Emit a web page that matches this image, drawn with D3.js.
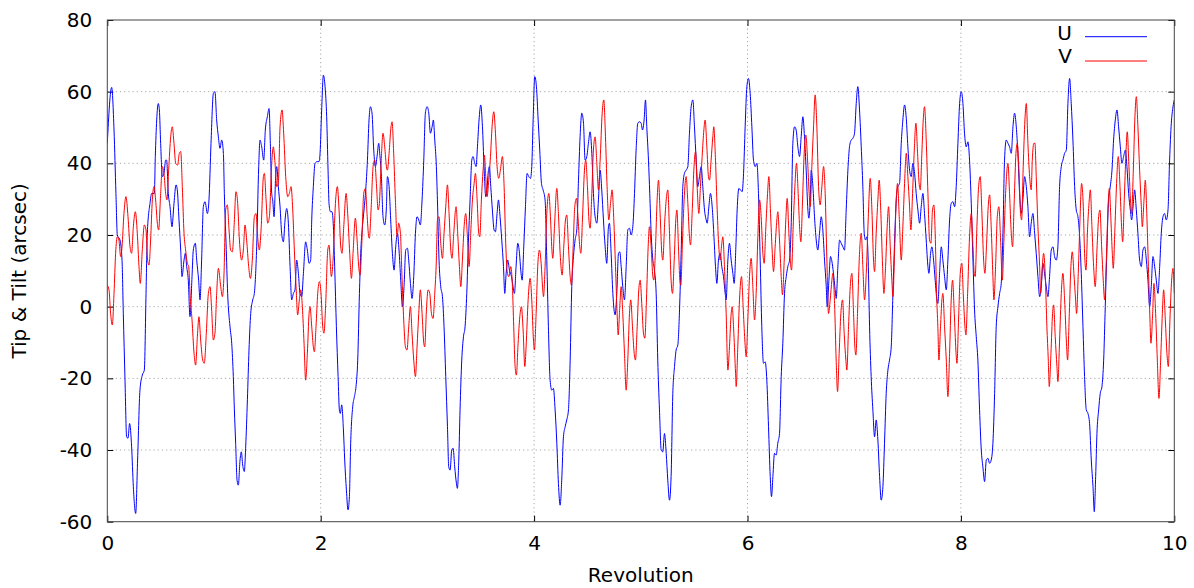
<!DOCTYPE html>
<html>
<head>
<meta charset="utf-8">
<script src="https://cdn.jsdelivr.net/npm/d3@7"></script>
<style>
  html, body { margin: 0; padding: 0; background: #fff; }
  svg { display: block; }
  text { font-family: "DejaVu Sans", sans-serif; fill: #000; }
</style>
</head>
<body>
<script>
// ---- data (revolution, arcsec) ----
const xTicks = [0, 2, 4, 6, 8, 10];
const yTicks = [-60, -40, -20, 0, 20, 40, 60, 80];
const seriesNames = ["U", "V"];
const seriesColors = ["#0000ff", "#ff0000"];

const uPoints = [
[0.000,45.6],[0.041,61.2],[0.063,49.3],[0.081,31.6],[0.094,20],[0.119,18.6],[0.138,13],[0.150,-1.9],[0.166,-20.5],[0.181,-36.3],[0.194,-36.7],[0.209,-32.6],[0.228,-39.1],[0.244,-50.2],[0.266,-57.7],[0.284,-42.8],[0.306,-23.3],[0.328,-19.1],[0.347,-17.7],[0.363,3.7],[0.375,20.5],[0.400,28.8],[0.416,31.6],[0.441,31.6],[0.450,41.9],[0.463,52.1],[0.478,56.7],[0.488,54.9],[0.500,45.6],[0.516,36.3],[0.531,37.2],[0.547,40.9],[0.556,40.9],[0.572,31.6],[0.588,27.9],[0.606,22.3],[0.625,28.8],[0.644,34],[0.656,32.6],[0.672,24.2],[0.688,15.8],[0.700,8.4],[0.719,13],[0.731,14.9],[0.744,11.2],[0.759,7.4],[0.775,-2.8],[0.794,8.4],[0.806,15.8],[0.825,17.7],[0.838,13],[0.856,7.4],[0.869,1.9],[0.884,13],[0.900,27.9],[0.916,29.3],[0.938,26],[0.953,29.8],[0.972,45.6],[0.994,59.5],[1.009,60],
[1.025,52.1],[1.041,47.4],[1.056,44.2],[1.072,46.5],[1.088,42.8],[1.097,31.6],[1.113,17.7],[1.128,3.7],[1.150,-5.6],[1.166,-10.2],[1.181,-19.5],[1.191,-28.8],[1.203,-38.1],[1.216,-48.4],[1.228,-49.8],[1.244,-42.8],[1.256,-40.5],[1.269,-44.2],[1.284,-46],[1.297,-39.1],[1.313,-26],[1.328,-12.1],[1.344,-1.9],[1.363,1.9],[1.378,3.7],[1.400,16.7],[1.419,39.1],[1.431,46.5],[1.447,44.6],[1.466,40.9],[1.481,49.3],[1.500,53],[1.516,55.3],[1.528,45.6],[1.541,31.6],[1.550,29.8],[1.563,25.1],[1.578,36.3],[1.588,39.1],[1.603,33.5],[1.619,27.9],[1.634,20.5],[1.650,18.1],[1.666,24.2],[1.681,27.4],[1.697,23.3],[1.713,11.2],[1.728,1.9],[1.744,3.7],[1.759,4.7],[1.775,13],[1.791,9.3],[1.806,3.7],[1.822,2.8],[1.838,9.3],[1.859,18.1],[1.875,15.8],[1.891,12.1],[1.906,13],[1.916,24.2],[1.931,33.5],[1.947,40],[1.969,40.5],[1.984,40.5],[1.994,42.8],[2.009,54.9],[2.025,64.6],[2.041,61.4],[2.056,53],
[2.069,38.1],[2.078,28.8],[2.091,26.5],[2.106,26.5],[2.119,22.3],[2.131,11.2],[2.147,-5.6],[2.163,-19.5],[2.175,-28.8],[2.184,-29.8],[2.197,-27.4],[2.213,-34.4],[2.225,-42.8],[2.241,-51.2],[2.256,-56.7],[2.269,-53],[2.281,-38.1],[2.300,-27.9],[2.316,-25.1],[2.331,-22.3],[2.347,-14.9],[2.363,3.7],[2.375,14.9],[2.391,22.3],[2.406,27],[2.422,32.6],[2.438,40.9],[2.453,52.1],[2.466,55.8],[2.481,54],[2.497,43.7],[2.513,39.1],[2.528,41.9],[2.544,45.6],[2.553,42.8],[2.569,36.3],[2.584,25.1],[2.600,22.8],[2.616,27.9],[2.625,36.3],[2.641,33.5],[2.656,24.2],[2.672,14.9],[2.688,10.2],[2.703,16.7],[2.719,20.5],[2.734,15.8],[2.750,7.4],[2.766,0],[2.781,5.6],[2.797,15.8],[2.813,16.3],[2.825,13],[2.841,6.5],[2.856,2.3],[2.872,8.4],[2.888,20.5],[2.903,25.1],[2.919,24.2],[2.934,22.8],[2.950,29.8],[2.966,40.9],[2.981,54],[2.997,55.8],[3.013,54],[3.028,48.4],[3.044,50.2],[3.056,52.1],[3.069,46.5],[3.084,39.1],
[3.094,29.8],[3.109,13],[3.125,5.6],[3.141,2.8],[3.156,-5.6],[3.172,-19.5],[3.188,-33.5],[3.200,-44.7],[3.213,-45.6],[3.228,-40],[3.241,-39.5],[3.256,-44.7],[3.272,-49.3],[3.281,-50.7],[3.294,-42.8],[3.306,-28.8],[3.322,-14.9],[3.338,-8.4],[3.353,-5.6],[3.369,3.7],[3.384,17.7],[3.400,29.8],[3.416,40.9],[3.428,41.9],[3.444,40],[3.456,39.1],[3.469,44.6],[3.484,52.1],[3.500,56.3],[3.516,50.2],[3.531,39.1],[3.547,30.7],[3.556,31.6],[3.569,37.2],[3.581,39.1],[3.594,33.5],[3.609,27],[3.625,21.4],[3.638,20.9],[3.653,26],[3.666,29.8],[3.681,25.1],[3.697,18.6],[3.713,11.2],[3.725,3.7],[3.738,9.3],[3.753,13],[3.769,10.2],[3.788,8.4],[3.803,5.6],[3.816,3.7],[3.831,11.2],[3.847,17.7],[3.863,14.9],[3.875,10.2],[3.888,7.4],[3.903,16.7],[3.919,27.9],[3.934,37.2],[3.950,36.3],[3.966,35.8],[3.978,39.1],[3.991,52.1],[4.006,64.2],[4.022,61.4],[4.038,52.1],[4.053,43.7],[4.069,34.4],[4.084,32.6],
[4.103,29.8],[4.119,13],[4.134,-5.6],[4.150,-20.5],[4.166,-23.3],[4.181,-22.8],[4.197,-28.8],[4.213,-38.1],[4.228,-49.3],[4.244,-55.4],[4.259,-48.4],[4.275,-36.3],[4.291,-33.5],[4.306,-31.6],[4.322,-28.8],[4.338,-14.9],[4.353,5.6],[4.369,14],[4.384,18.6],[4.400,21.4],[4.416,35.3],[4.431,47.4],[4.447,54],[4.463,51.2],[4.478,40.9],[4.494,41.9],[4.509,45.6],[4.525,48.8],[4.541,42.8],[4.556,31.6],[4.572,25.1],[4.588,23.3],[4.603,29.8],[4.619,38.1],[4.634,32.6],[4.650,24.2],[4.666,16.7],[4.681,12.1],[4.697,22.3],[4.706,23.3],[4.722,14.9],[4.738,3.7],[4.759,-2.3],[4.775,3.7],[4.791,14.9],[4.803,15.3],[4.816,11.2],[4.831,5.6],[4.847,1.9],[4.863,11.2],[4.878,21.4],[4.894,21.9],[4.909,20],[4.925,22.3],[4.941,31.6],[4.956,43.7],[4.972,51.2],[4.988,51.6],[5.003,51.2],[5.016,49.3],[5.031,52.1],[5.044,57.7],[5.056,50.2],[5.072,40.9],
[5.084,31.6],[5.097,20.5],[5.113,13],[5.128,10.2],[5.144,3.7],[5.159,-14.9],[5.175,-28.8],[5.191,-40],[5.206,-40.5],[5.222,-35.4],[5.238,-40.9],[5.253,-48.4],[5.269,-54],[5.284,-47.4],[5.300,-24.2],[5.316,-16.7],[5.331,-12.1],[5.347,-10.7],[5.363,-0.9],[5.378,14.9],[5.394,33.5],[5.409,37.2],[5.425,38.1],[5.441,39.1],[5.456,48.4],[5.472,55.8],[5.488,57.7],[5.503,50.2],[5.519,40.9],[5.534,33.5],[5.550,36.3],[5.566,39.1],[5.581,33.5],[5.597,27],[5.613,24.2],[5.622,23.3],[5.638,27.9],[5.653,31.6],[5.669,27.9],[5.684,20.5],[5.700,11.2],[5.713,6.5],[5.728,13],[5.744,14.9],[5.759,11.2],[5.775,8.4],[5.791,3.7],[5.800,1.9],[5.816,13],[5.831,17.7],[5.847,13],[5.863,9.3],[5.875,6.5],[5.891,16.7],[5.903,27],[5.919,33],[5.934,32.6],[5.950,32.1],[5.963,37.2],[5.978,50.2],[5.994,61.4],[6.009,63.7],[6.025,59.5],[6.041,50.2],[6.056,40.9],[6.072,39.1],[6.088,40],[6.103,31.6],[6.119,13],[6.134,-5.6],[6.150,-15.8],[6.166,-15.4],[6.181,-20.5],[6.197,-33.5],[6.213,-47.4],
[6.225,-53],[6.238,-47.4],[6.253,-40.9],[6.269,-41.4],[6.284,-38.1],[6.300,-35.4],[6.316,-19.5],[6.331,-10.2],[6.347,3.7],[6.363,8.4],[6.378,11.2],[6.394,13],[6.409,22.3],[6.425,45.6],[6.441,50.2],[6.456,49.3],[6.472,44.6],[6.488,41.9],[6.503,47.4],[6.519,53],[6.534,47.4],[6.550,38.1],[6.566,27],[6.575,24.7],[6.588,29.8],[6.597,38.1],[6.613,33.5],[6.628,25.1],[6.644,18.6],[6.659,15.8],[6.675,20.5],[6.691,25.1],[6.706,21.4],[6.722,13],[6.738,5.6],[6.747,0],[6.763,7.4],[6.778,14],[6.794,12.1],[6.809,8.4],[6.825,3.7],[6.831,2.3],[6.847,11.2],[6.863,18.6],[6.878,17.7],[6.894,16.7],[6.909,15.8],[6.925,27],[6.941,38.1],[6.956,44.6],[6.972,46.5],[6.988,47],[7.003,48.4],[7.019,56.7],[7.034,61.4],[7.050,54.9],[7.066,44.6],[7.081,33.5],[7.094,20.5],[7.106,18.6],[7.119,19.5],[7.131,13],[7.144,-5.6],[7.159,-19.5],[7.175,-28.8],[7.191,-36.3],[7.206,-31.6],[7.222,-37.2],[7.238,-47.4],[7.253,-54],[7.269,-50.2],[7.284,-38.1],[7.300,-24.2],[7.316,-17.7],[7.331,-14.9],[7.347,-11.2],[7.363,3.7],[7.378,17.7],[7.394,29.8],[7.409,33.5],[7.425,34.4],
[7.441,45.6],[7.456,52.1],[7.472,56.3],[7.488,52.6],[7.503,44.6],[7.519,38.1],[7.534,36.3],[7.550,40],[7.566,37.2],[7.581,31.6],[7.597,27],[7.613,23.3],[7.628,27.9],[7.644,31.6],[7.659,26],[7.675,18.6],[7.691,11.2],[7.700,9.3],[7.716,14.9],[7.728,16.7],[7.744,13],[7.759,7.4],[7.775,1.9],[7.784,0.9],[7.800,9.3],[7.816,16.7],[7.831,13],[7.847,8.4],[7.863,4.7],[7.878,13],[7.894,24.2],[7.909,28.8],[7.925,29.3],[7.941,27.9],[7.956,33.5],[7.972,45.6],[7.988,56.7],[8.003,60],[8.019,56.7],[8.034,48.4],[8.050,44.6],[8.066,46],[8.081,40.9],[8.097,28.8],[8.113,13],[8.128,-0.9],[8.144,-8.4],[8.159,-14.9],[8.175,-28.8],[8.191,-40],[8.206,-44.7],[8.222,-48.8],[8.238,-42.8],[8.253,-42.3],[8.269,-43.7],[8.284,-42.8],[8.300,-38.1],[8.316,-24.2],[8.331,-5.6],[8.347,0],[8.363,3.7],[8.378,6.5],[8.394,20.5],[8.409,40.9],[8.425,46.5],[8.441,45.6],[8.456,44.6],[8.472,42.8],[8.488,50.2],[8.503,54],[8.519,50.2],[8.534,42.8],[8.550,31.6],[8.566,26],[8.581,29.8],[8.597,36.3],[8.613,33.5],[8.628,27.9],[8.644,19.5],
[8.659,23.3],[8.675,26],[8.691,20.5],[8.706,14.9],[8.722,8.4],[8.738,2.8],[8.753,5.6],[8.769,12.1],[8.784,9.3],[8.800,5.6],[8.816,2.8],[8.831,8.4],[8.847,15.8],[8.863,16.7],[8.878,14],[8.894,13],[8.909,16.7],[8.925,33.5],[8.941,39.1],[8.956,40.9],[8.972,42.8],[8.988,43.7],[9.003,56.7],[9.019,63.7],[9.034,56.7],[9.050,46.5],[9.066,33.5],[9.081,27],[9.097,25.1],[9.113,19.5],[9.128,9.3],[9.144,-5.6],[9.159,-19.5],[9.175,-28.8],[9.191,-29.8],[9.206,-32.6],[9.222,-42.8],[9.238,-50.2],[9.250,-57.2],[9.263,-47.4],[9.275,-35.4],[9.291,-28.8],[9.306,-24.2],[9.322,-22.3],[9.338,-14.9],[9.353,0],[9.369,16.7],[9.384,29.8],[9.400,33.5],[9.416,38.1],[9.431,46.5],[9.447,52.1],[9.463,54.9],[9.478,50.2],[9.494,44.6],[9.509,40],[9.525,41.9],[9.541,43.7],[9.556,39.1],[9.572,31.6],[9.588,27],[9.600,24.2],[9.616,28.8],[9.628,32.6],[9.644,27],[9.659,20.5],[9.675,13],[9.691,11.2],[9.706,15.8],[9.722,16.7],[9.738,13],[9.753,7.4],[9.769,0],[9.784,5.6],[9.800,14],[9.816,11.2],[9.831,7.4],[9.847,3.7],[9.863,11.2],[9.878,20.5],[9.894,25.1],[9.909,26],[9.925,24.2],[9.941,27],[9.956,40.9],[9.972,51.2],[9.988,55.8],[10.0,57.7]
];

const vPoints = [
[0.000,6],[0.016,4.7],[0.031,-1.9],[0.047,-5.1],[0.063,3.7],[0.078,14.9],[0.094,19.5],[0.109,18.6],[0.125,14],[0.138,16.7],[0.156,26],[0.175,30.7],[0.194,25.1],[0.213,16.7],[0.228,14.9],[0.244,22.3],[0.263,26.5],[0.281,20.5],[0.297,11.2],[0.309,6.5],[0.328,15.8],[0.347,22.8],[0.363,21.4],[0.378,13],[0.391,11.6],[0.406,18.6],[0.422,29.8],[0.438,33.5],[0.453,29.8],[0.469,23.3],[0.481,21.4],[0.500,31.6],[0.516,39.1],[0.531,37.2],[0.547,31.6],[0.559,29.8],[0.575,38.1],[0.594,47.4],[0.609,50.2],[0.625,45.6],[0.641,40],[0.659,39.5],[0.675,42.8],[0.688,43.3],[0.703,33.5],[0.719,20.5],[0.734,15.8],[0.750,12.1],[0.763,11.2],[0.775,3.7],[0.794,-3.7],[0.813,-13],[0.828,-16.3],[0.844,-8.4],[0.859,-2.8],[0.875,-9.3],[0.894,-14.9],[0.909,-15.8],[0.928,-7.4],[0.947,3.7],[0.963,5.6],[0.978,-0.9],[0.994,-9.3],[1.009,-7.4],[1.025,3.7],[1.041,10.7],
[1.063,5.6],[1.078,2.8],[1.094,9.3],[1.109,27],[1.125,28.4],[1.141,21.4],[1.156,15.8],[1.172,15.3],[1.188,22.3],[1.206,32.1],[1.222,28.8],[1.238,18.6],[1.259,13],[1.275,15.8],[1.291,22.8],[1.306,18.6],[1.325,11.2],[1.341,7.9],[1.359,13],[1.378,25.1],[1.394,26],[1.409,19.5],[1.425,15.8],[1.441,21.4],[1.463,36.3],[1.472,37.2],[1.488,29.8],[1.503,23.3],[1.519,25.1],[1.541,40],[1.556,44.6],[1.572,40],[1.588,33.5],[1.603,34.4],[1.619,50.2],[1.638,54.9],[1.653,48.4],[1.672,36.3],[1.691,30.7],[1.706,31.6],[1.722,33.5],[1.738,27],[1.753,15.8],[1.769,5.6],[1.784,-2.3],[1.800,1.9],[1.813,4.7],[1.828,0],[1.844,-10.2],[1.859,-20.5],[1.875,-13],[1.891,-1.9],[1.900,0],[1.916,-5.6],[1.931,-11.2],[1.941,-12.6],[1.956,-5.6],[1.972,3.7],[1.988,7],[2.003,3.7],[2.019,-5.6],[2.031,-7.4],[2.047,0.9],[2.066,15.8],[2.078,17.2],
[2.100,8.4],[2.116,13],[2.138,28.8],[2.156,33.5],[2.172,27],[2.188,16.7],[2.200,14.9],[2.216,22.3],[2.238,31.6],[2.253,26],[2.272,14.9],[2.288,7.9],[2.303,14.9],[2.325,24.7],[2.341,18.6],[2.356,11.2],[2.369,8.8],[2.384,16.7],[2.403,31.6],[2.419,33],[2.434,26],[2.450,19.5],[2.456,19.1],[2.472,27],[2.491,39.1],[2.506,40.9],[2.522,34.4],[2.538,27],[2.550,28.8],[2.566,40],[2.584,48.4],[2.600,44.6],[2.616,39.1],[2.625,38.1],[2.641,42.8],[2.656,49.3],[2.669,51.6],[2.684,42.8],[2.700,29.8],[2.716,19.5],[2.731,23.3],[2.747,20.5],[2.763,7.4],[2.778,-3.7],[2.794,-11.2],[2.809,-12.1],[2.825,-5.6],[2.841,0],[2.856,-7.4],[2.872,-14.9],[2.888,-19.5],[2.903,-11.2],[2.919,-1.9],[2.934,4.7],[2.950,-1.9],[2.966,-10.2],[2.975,-11.2],[2.991,-0.9],[3.006,4.7],[3.022,3.7],[3.038,-1.9],[3.053,-3.3],[3.069,3.7],[3.084,13],
[3.094,24.2],[3.109,25.1],[3.125,17.7],[3.141,13.5],[3.156,20.5],[3.172,27.9],[3.188,34],[3.203,26],[3.219,15.8],[3.231,13.5],[3.247,20.5],[3.269,27.9],[3.284,20.5],[3.300,11.2],[3.313,5.6],[3.328,13],[3.344,22.3],[3.359,26],[3.375,19.5],[3.391,11.2],[3.406,20.5],[3.422,29.8],[3.438,34.4],[3.450,37.2],[3.466,29.8],[3.481,20.5],[3.491,19.5],[3.506,29.8],[3.522,38.1],[3.534,42.3],[3.547,36.3],[3.559,30.7],[3.575,35.3],[3.591,41.9],[3.606,50.2],[3.622,54.4],[3.638,48.4],[3.653,39.1],[3.669,35.8],[3.684,38.1],[3.703,41.9],[3.719,33.5],[3.734,17.7],[3.750,9.3],[3.763,8.4],[3.781,11.2],[3.797,5.6],[3.809,-5.6],[3.822,-16.7],[3.834,-19.1],[3.850,-10.2],[3.866,-2.8],[3.881,0],[3.897,-6.5],[3.913,-16.7],[3.925,-11.2],[3.944,1.9],[3.963,7.9],[3.978,1.9],[3.994,-9.3],[4.003,-12.1],[4.019,-1.9],[4.034,11.2],[4.050,15.8],[4.066,12.1],[4.081,4.7],
[4.088,2.8],[4.103,11.2],[4.119,26],[4.138,31.6],[4.153,25.1],[4.169,14.9],[4.175,13.5],[4.191,22.3],[4.213,33],[4.228,26],[4.244,14.9],[4.263,8.8],[4.278,16.7],[4.294,24.2],[4.306,25.6],[4.322,16.7],[4.338,8.4],[4.350,6],[4.366,16.7],[4.381,27.9],[4.397,30.2],[4.413,24.2],[4.428,16.7],[4.438,14.9],[4.453,24.2],[4.472,38.1],[4.484,40.9],[4.500,33.5],[4.516,23.3],[4.525,21.9],[4.541,31.6],[4.556,43.7],[4.572,47.4],[4.588,40],[4.603,32.6],[4.619,40.9],[4.638,54],[4.653,57.7],[4.669,47.4],[4.684,33.5],[4.700,24.2],[4.716,28.8],[4.731,32.6],[4.747,24.2],[4.763,11.2],[4.778,-1.9],[4.788,-7.9],[4.803,0],[4.816,5.6],[4.831,-1.9],[4.847,-13],[4.863,-23.3],[4.878,-14.9],[4.894,-1.9],[4.906,1.9],[4.922,-5.6],[4.938,-13],[4.950,-14.9],[4.966,-5.6],[4.981,4.7],[4.994,7.4],[5.009,0.9],[5.025,-7.4],[5.038,-8.8],[5.053,1.9],[5.069,16.7],[5.081,22.3],
[5.097,16.7],[5.113,8.4],[5.122,7.4],[5.138,16.7],[5.153,29.8],[5.166,35.3],[5.181,26],[5.197,14.9],[5.206,13],[5.225,24.2],[5.241,30.7],[5.253,32.6],[5.269,20.5],[5.284,7.4],[5.297,3.7],[5.313,13],[5.328,24.2],[5.338,27],[5.353,16.7],[5.366,7.4],[5.375,6],[5.391,18.6],[5.406,29.8],[5.425,36.3],[5.441,28.8],[5.456,19.5],[5.466,17.2],[5.481,26],[5.497,38.1],[5.513,43.3],[5.528,33.5],[5.544,26],[5.559,33.5],[5.575,41.9],[5.591,49.3],[5.603,52.1],[5.619,44.6],[5.634,36.3],[5.644,35.3],[5.659,40.9],[5.675,47.4],[5.684,50.2],[5.700,40.9],[5.716,27],[5.731,16.7],[5.744,13],[5.756,16.7],[5.769,19.5],[5.784,11.2],[5.800,-1.9],[5.816,-17.7],[5.831,-11.2],[5.847,-1.9],[5.856,0],[5.872,-7.4],[5.888,-18.6],[5.894,-22.3],[5.909,-11.2],[5.925,1.9],[5.944,8.4],[5.959,0],[5.975,-9.3],[5.988,-14],[6.003,-3.7],[6.019,8.4],[6.034,13.5],[6.050,5.6],[6.066,-3.7],[6.081,3.7],[6.097,19.5],[6.113,29.8],[6.128,25.1],[6.144,14.9],[6.156,12.1],[6.172,22.3],[6.188,31.6],[6.200,36.3],
[6.216,26],[6.231,15.8],[6.244,9.8],[6.259,16.7],[6.275,24.2],[6.284,26.5],[6.300,18.6],[6.316,8.4],[6.328,3.3],[6.344,13],[6.359,24.2],[6.372,30.2],[6.388,20.5],[6.403,12.1],[6.413,10.2],[6.428,22.3],[6.444,33.5],[6.459,40],[6.475,31.6],[6.488,22.3],[6.500,18.1],[6.516,29.8],[6.531,42.8],[6.547,47.9],[6.563,40.9],[6.578,31.6],[6.588,27.9],[6.603,39.1],[6.619,50.2],[6.634,59.1],[6.650,50.2],[6.666,33.5],[6.681,28.4],[6.697,33.5],[6.713,39.1],[6.728,31.6],[6.744,13],[6.759,-1.9],[6.775,1.9],[6.791,7.4],[6.800,9.3],[6.816,0.9],[6.831,-14.9],[6.844,-23.7],[6.859,-13],[6.875,-1.9],[6.891,1.9],[6.906,-7.4],[6.922,-14.9],[6.931,-17.7],[6.947,-5.6],[6.963,5.6],[6.978,9.3],[6.994,-1.9],[7.006,-11.2],[7.016,-13.5],[7.031,-1.9],[7.047,13],[7.066,20.5],[7.081,11.2],[7.097,1.9],[7.113,9.3],[7.131,24.2],[7.150,35.8],[7.166,27],[7.181,13],[7.191,9.8],[7.206,20.5],[7.222,29.8],[7.234,35.3],[7.250,26],[7.266,11.2],[7.278,3.7],[7.294,11.2],[7.309,22.3],[7.322,27.9],[7.338,16.7],[7.353,7.4],[7.363,2.8],[7.378,14.9],[7.394,29.8],[7.406,34.4],[7.422,25.1],
[7.441,13],[7.456,22.3],[7.472,34.4],[7.488,42.8],[7.503,36.3],[7.519,27.9],[7.531,21.4],[7.547,31.6],[7.563,43.7],[7.578,51.2],[7.594,42.8],[7.606,35.3],[7.619,32.6],[7.634,42.8],[7.647,52.1],[7.659,55.8],[7.675,46.5],[7.691,31.6],[7.706,18.6],[7.719,17.7],[7.734,27],[7.747,28.4],[7.759,20.5],[7.772,3.7],[7.784,-5.6],[7.794,-14.9],[7.809,-5.6],[7.822,1.9],[7.831,3.7],[7.847,-5.6],[7.863,-14.9],[7.878,-25.1],[7.894,-13],[7.909,1.9],[7.922,7.4],[7.938,-1.9],[7.953,-12.1],[7.963,-15.8],[7.978,-3.7],[7.994,9.3],[8.009,12.1],[8.022,3.7],[8.038,-5.6],[8.047,-7.9],[8.063,3.7],[8.081,19.5],[8.097,26],[8.113,16.7],[8.125,9.3],[8.134,8.4],[8.150,22.3],[8.166,33.5],[8.181,36.3],[8.197,26],[8.213,13],[8.225,9.3],[8.241,17.7],[8.256,27.9],[8.269,31.2],[8.284,22.3],[8.300,8.4],[8.309,1.9],[8.325,11.2],[8.341,25.1],[8.356,27.9],[8.372,18.6],[8.388,7.4],[8.403,18.6],[8.419,31.6],[8.441,40],[8.456,31.6],[8.472,20.5],[8.484,16.7],[8.500,29.8],[8.516,42.8],[8.528,45.6],[8.544,38.1],[8.559,26],[8.569,24.2],[8.584,39.1],[8.600,52.1],[8.613,56.7],[8.628,45.6],[8.644,36.3],[8.659,32.6],
[8.669,40.9],[8.684,45.6],[8.694,45.6],[8.706,36.3],[8.722,22.3],[8.738,11.2],[8.747,3.7],[8.763,11.2],[8.775,14.9],[8.791,8.4],[8.806,-5.6],[8.819,-14.9],[8.828,-22.3],[8.844,-13],[8.859,-1.9],[8.869,0.5],[8.884,-8.4],[8.900,-16.7],[8.909,-20.9],[8.925,-9.3],[8.941,3.7],[8.956,9.3],[8.972,1.9],[8.988,-9.3],[9.000,-14.9],[9.016,-1.9],[9.031,11.2],[9.044,15.3],[9.059,9.3],[9.075,1.9],[9.084,-1.9],[9.100,9.3],[9.116,24.2],[9.131,34.4],[9.147,27.9],[9.159,14.9],[9.172,10.2],[9.188,22.3],[9.203,29.8],[9.213,32.6],[9.228,22.3],[9.244,11.2],[9.259,5.6],[9.275,15.8],[9.291,25.1],[9.303,27],[9.319,16.7],[9.334,7.4],[9.347,1.9],[9.363,13],[9.378,27],[9.391,33],[9.406,24.2],[9.419,14.9],[9.428,10.7],[9.444,22.3],[9.459,34.4],[9.475,41.9],[9.491,33.5],[9.506,22.3],[9.516,18.1],[9.531,29.8],[9.547,42.8],[9.559,48.8],[9.575,39.1],[9.591,28.8],[9.600,26],[9.616,38.1],[9.631,53],[9.644,58.6],[9.659,50.2],[9.675,38.1],[9.691,27.9],[9.700,22.3],[9.716,29.8],[9.728,35.3],[9.744,24.2],[9.759,9.3],[9.772,-3.7],[9.781,-10.2],[9.797,-1.9],[9.809,6.5],[9.825,-1.9],[9.841,-14.9],[9.856,-25.6],[9.872,-14.9],[9.888,-1.9],[9.900,4.7],[9.916,-3.7],[9.931,-13],[9.944,-16.7],[9.959,-3.7],[9.975,7.4],[9.988,10.7],[10.0,3.7]
];

// ---- layout ----
const W = 1194, H = 588;
const plot = { left: 107.3, right: 1174.3, top: 20, bottom: 521.7 };

const svg = d3.select("body").append("svg").attr("width", W).attr("height", H);
svg.append("rect").attr("width", W).attr("height", H).attr("fill", "#fff");

const x = d3.scaleLinear().domain([0, 10]).range([plot.left, plot.right]);
const y = d3.scaleLinear().domain([-60, 80]).range([plot.bottom, plot.top]);

// grid
const grid = svg.append("g").attr("stroke", "#a8a8a8").attr("stroke-width", 1).attr("stroke-dasharray", "1.2,3");
xTicks.filter(t => t > 0 && t < 10).forEach(t => {
  grid.append("line").attr("x1", x(t)).attr("x2", x(t)).attr("y1", plot.top).attr("y2", plot.bottom);
});
yTicks.filter(t => t > -60 && t < 80).forEach(t => {
  grid.append("line").attr("x1", plot.left).attr("x2", plot.right).attr("y1", y(t)).attr("y2", y(t));
});

// axes with inward ticks (left/bottom) and mirror ticks (right/top)
const tickLen = 6;
const plainFmt = d => String(d);   // ASCII hyphen-minus like the reference
const yAxis = d3.axisLeft(y).tickValues(yTicks).tickFormat(plainFmt).tickSizeInner(-tickLen).tickSizeOuter(0).tickPadding(15);
const xAxis = d3.axisBottom(x).tickValues(xTicks).tickFormat(plainFmt).tickSizeInner(-tickLen).tickSizeOuter(0).tickPadding(14);
const yAxisR = d3.axisRight(y).tickValues(yTicks).tickSizeInner(-tickLen).tickSizeOuter(0).tickFormat("");
const xAxisT = d3.axisTop(x).tickValues(xTicks).tickSizeInner(-tickLen).tickSizeOuter(0).tickFormat("");

function styleAxis(g) {
  g.select(".domain").remove();
  g.selectAll(".tick line").attr("stroke", "#000").attr("stroke-width", 1);
  g.selectAll(".tick text").attr("font-family", "DejaVu Sans, sans-serif").attr("font-size", 20).attr("fill", "#000");
}
svg.append("g").attr("transform", `translate(${plot.left},0)`).call(yAxis).call(styleAxis);
svg.append("g").attr("transform", `translate(0,${plot.bottom})`).call(xAxis).call(styleAxis);
svg.append("g").attr("transform", `translate(${plot.right},0)`).call(yAxisR).call(styleAxis);
svg.append("g").attr("transform", `translate(0,${plot.top})`).call(xAxisT).call(styleAxis);

// series
const line = d3.line().x(d => x(d[0])).y(d => y(d[1])).curve(d3.curveMonotoneX);
svg.append("clipPath").attr("id", "clip").append("rect")
  .attr("x", plot.left).attr("y", plot.top).attr("width", plot.right - plot.left).attr("height", plot.bottom - plot.top);
const dataSets = [uPoints, vPoints];
[0, 1].forEach(i => {
  svg.append("path").attr("d", line(dataSets[i])).attr("fill", "none")
    .attr("stroke", seriesColors[i]).attr("stroke-width", 1).attr("clip-path", "url(#clip)");
});

// border
svg.append("rect").attr("x", plot.left).attr("y", plot.top)
  .attr("width", plot.right - plot.left).attr("height", plot.bottom - plot.top)
  .attr("fill", "none").attr("stroke", "#444").attr("stroke-width", 1);

// legend
const legendY = [39.5, 63];
const lineY = [36.7, 61];
seriesNames.forEach((name, i) => {
  svg.append("text").attr("x", 1072).attr("y", legendY[i]).attr("text-anchor", "end")
    .attr("font-size", 20).text(name);
  svg.append("line").attr("x1", 1085).attr("x2", 1147).attr("y1", lineY[i]).attr("y2", lineY[i])
    .attr("stroke", seriesColors[i]).attr("stroke-width", 1);
});

// axis titles
svg.append("text").attr("x", (plot.left + plot.right) / 2).attr("y", 582)
  .attr("text-anchor", "middle").attr("font-size", 20).text("Revolution");
svg.append("text").attr("transform", `translate(26,${(plot.top + plot.bottom) / 2}) rotate(-90)`)
  .attr("text-anchor", "middle").attr("font-size", 20).text("Tip & Tilt (arcsec)");
</script>
</body>
</html>
